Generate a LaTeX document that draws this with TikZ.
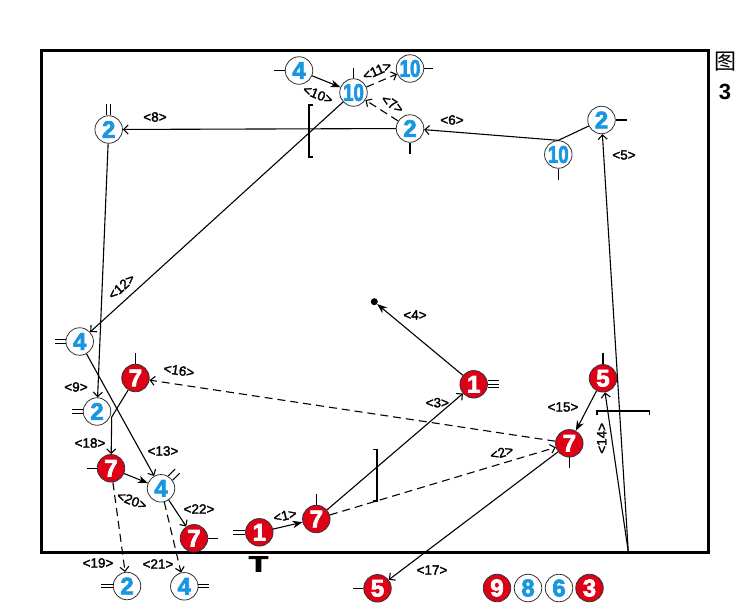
\documentclass[tikz,border=0pt]{standalone}
\usepackage{fontspec}
\setmainfont{Liberation Sans}
\newfontfamily\cjk{Noto Sans CJK SC}
\newfontfamily\numfont{Liberation Sans}[BoldFeatures={FakeBold=3}]
\newfontfamily\lblfont{Liberation Sans}[FakeBold=2]
\usetikzlibrary{arrows.meta}
\definecolor{cred}{RGB}{222,0,22}
\definecolor{cblue}{RGB}{24,150,226}
\begin{document}
\begin{tikzpicture}[x=1pt,y=-1pt,
  every node/.style={inner sep=0pt},
  numf/.style={font={\numfont\fontsize{24}{24}\bfseries}},
  rn/.style={circle,fill=cred,draw=black!80,line width=0.8pt,minimum size=27.5pt,text=white,numf},
  bn/.style={circle,fill=white,draw=black!80,line width=0.8pt,minimum size=27.5pt,text=cblue,numf},
  lbl/.style={font={\lblfont\fontsize{13.5}{13.5}\selectfont}},
  conn/.style={line width=1.1pt},
  fa/.style={conn,-{Stealth[length=10pt,width=7.5pt]}},
  oa/.style={conn,-{Straight Barb[length=4.5pt,width=9pt]}},
  dsh/.style={dash pattern=on 8pt off 5pt},
  tick/.style={line width=1.1pt},
  brk/.style={line width=1.6pt},
]
\useasboundingbox (0,0) rectangle (750,603);
% frame
\draw[line width=3pt] (41,50.5) rectangle (708.5,552.5);

% nodes
\node[bn] (b4a) at (299,70.5) {4};
\node[bn] (b10a) at (353.5,92.5) {\scalebox{0.78}[1]{10}};
\node[bn] (b10b) at (410,68.5) {\scalebox{0.78}[1]{10}};
\node[bn] (b2a) at (410,128.5) {2};
\node[bn] (b2b) at (108.7,129.5) {2};
\node[bn] (b2c) at (601.5,120) {2};
\node[bn] (b10c) at (558.3,154.5) {\scalebox{0.78}[1]{10}};
\node[bn] (b4b) at (79.7,341.5) {4};
\node[bn] (b2d) at (97,411.5) {2};
\node[rn] (r7a) at (135.5,378) {7};
\node[rn] (r7b) at (111,468.3) {7};
\node[bn] (b4c) at (161,488.3) {4};
\node[rn] (r7c) at (194,538.3) {7};
\node[rn] (r1a) at (259.3,532.3) {1};
\node[rn] (r7d) at (316.3,519) {7};
\node[rn] (r1b) at (473.7,384.3) {1};
\node[rn] (r5a) at (603,378.3) {5};
\node[rn] (r7e) at (569.3,443.3) {7};
\node[bn] (b2e) at (127,586) {2};
\node[bn] (b4d) at (184.3,586.3) {4};
\node[rn] (r5b) at (377.5,588.3) {5};
\node[rn] (r9) at (497,588) {9};
\node[bn] (b8) at (528,588) {8};
\node[bn] (b6) at (559,588) {6};
\node[rn] (r3) at (589.5,588) {3};
\node[circle,fill=black,minimum size=7pt] (dot) at (374.3,301.7) {};
\coordinate (k18) at (111.7,417);
\coordinate (c14) at (628.3,552);

% ticks
\draw[tick] (b4a.west) -- ++(-11,0);
\draw[tick] (b10a.north) -- ++(0,-10);
\draw[tick] (b10b.east) -- ++(9,0);
\draw[tick] (b2a.south) -- ++(0,11);
\draw[tick] ([xshift=-1.8pt]b2b.north) -- ++(0,-11) ([xshift=1.8pt]b2b.north) -- ++(0,-11);
\draw[tick] (b2c.east) -- ++(11,0);
\draw[tick] (b10c.south) -- ++(0,11);
\draw[tick] ([yshift=1.8pt]b4b.west) -- ++(-11,0) ([yshift=-1.8pt]b4b.west) -- ++(-11,0);
\draw[tick] ([yshift=1.8pt]b2d.west) -- ++(-11,0) ([yshift=-1.8pt]b2d.west) -- ++(-11,0);
\draw[tick] (r7a.north) -- ++(0,-11);
\draw[tick] (r7b.west) -- ++(-10,0);
\draw[tick] (b4c.35) -- ++(7,-7) (b4c.60) -- ++(7,-7);
\draw[tick] (r7c.east) -- ++(10,0);
\draw[tick] ([yshift=1.8pt]r1a.west) -- ++(-12,0) ([yshift=-1.8pt]r1a.west) -- ++(-12,0);
\draw[tick] (r7d.north) -- ++(0,-11);
\draw[tick] (r1b.east) -- ++(11,0) ([yshift=3.4pt]r1b.east) -- ++(11,0) ([yshift=-3.4pt]r1b.east) -- ++(11,0);
\draw[tick] (r5a.north) -- ++(0,-11);
\draw[tick] (r7e.south) -- ++(0,11);
\draw[tick] ([yshift=1.6pt]b2e.west) -- ++(-12,0) ([yshift=-1.6pt]b2e.west) -- ++(-12,0);
\draw[tick] ([yshift=1.6pt]b4d.east) -- ++(11,0) ([yshift=-1.6pt]b4d.east) -- ++(11,0);
\draw[tick] (r5b.west) -- ++(-10,0);

% brackets
\draw[brk] (313,105) -- (309,105) -- (309,157) -- (313,157);
\draw[brk] (372.7,449.5) -- (376.7,449.5) -- (376.7,501) -- (372.7,501);
\draw[brk] (596.7,415) -- (596.7,410.7) -- (649.3,410.7) -- (649.3,415);

% connectors
\draw[fa] (b4a) -- (b10a);
\draw[oa,dsh] (b10a) -- (b10b);
\draw[oa,dsh] (b2a) -- (b10a);
\draw[oa] (b10c.north) -- (b2a);
\draw[conn] (b10c.north) -- (b2c);
\draw[oa] (b2a) -- (b2b);
\draw[oa] (b10a) -- (b4b);
\draw[oa] (b2b) -- (b2d);
\draw[oa] (b4b) -- (b4c);
\draw[oa,dsh] (r7e) -- (r7a);
\draw[oa] (r7a) -- (k18) -- (r7b);
\draw[oa,dsh] (r7b) -- (b2e);
\draw[fa] (r7b) -- (b4c);
\draw[oa,dsh] (b4c) -- (b4d);
\draw[oa] (b4c) -- (r7c);
\draw[fa] (r1a) -- (r7d);
\draw[oa] (r7d) -- (r1b);
\draw[oa,dsh] (r7d) -- (r7e);
\draw[fa] (r1b) -- (dot);
\draw[fa] (r5a) -- (r7e);
\draw[oa] (c14) -- (r5a);
\draw[oa] (c14) -- (b2c);
\draw[oa] (r7e) -- (r5b);

% labels
\node[lbl,rotate=12.8] (l1) at (285,515.5) {<1>};
\node[lbl,rotate=16.7] (l2) at (501.7,452.5) {<2>};
\node[lbl] (l3) at (437.3,402.7) {<3>};
\node[lbl] (l4) at (415,315) {<4>};
\node[lbl] (l5) at (624,155) {<5>};
\node[lbl] (l6) at (452,120) {<6>};
\node[lbl,rotate=-32.7] (l7) at (392.5,104) {<7>};
\node[lbl] (l8) at (155,117) {<8>};
\node[lbl] (l9) at (76,387) {<9>};
\node[lbl,rotate=-22.7] (l10) at (318,94.5) {<10>};
\node[lbl,rotate=24] (l11) at (377,70.5) {<11>};
\node[lbl,rotate=42] (l12) at (121.5,286.5) {<12>};
\node[lbl] (l13) at (163,451) {<13>};
\node[lbl,rotate=90] (l14) at (601.7,438.3) {<14>};
\node[lbl] (l15) at (563,407) {<15>};
\node[lbl,rotate=-8.6] (l16) at (179,370.5) {<16>};
\node[lbl] (l17) at (432,570) {<17>};
\node[lbl] (l18) at (90,443) {<18>};
\node[lbl] (l19) at (98,563) {<19>};
\node[lbl,rotate=-21.8] (l20) at (132,500.5) {<20>};
\node[lbl] (l21) at (158,564) {<21>};
\node[lbl] (l22) at (199,509) {<22>};

% misc text
\node (tee) at (258.5,564) {\numfont\fontsize{22}{22}\bfseries\scalebox{1.45}[1]{T}};
\node (fig) at (725,62) {\cjk\fontsize{22}{22}\selectfont 图};
\node (fignum) at (725,92) {\fontsize{22}{22}\bfseries 3};
\end{tikzpicture}
\end{document}
